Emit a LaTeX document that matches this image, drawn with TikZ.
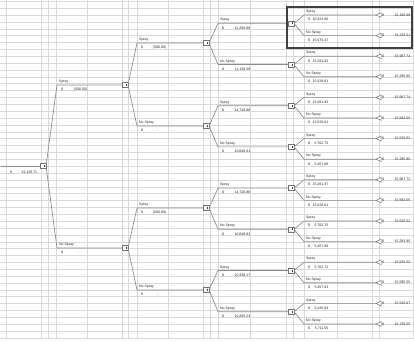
\documentclass[tikz,border=0pt]{standalone}
\usepackage{fontspec}
\setmainfont{Liberation Sans}
\newcommand\money[2]{\makebox[#1pt][s]{\$\hfill #2}}
\begin{document}
\begin{tikzpicture}[x=1pt,y=-1pt,
  gridline/.style={draw=black!15,line width=0.5pt},
  branch/.style={draw=black!45,line width=0.65pt},
  dbox/.style={draw=black!55,fill=white,line width=0.5pt,minimum width=6pt,minimum height=5pt,inner sep=0pt,outer sep=0pt},
  term/.style={draw=black!55,fill=white,line width=0.5pt},
  lbl/.style={font=\fontsize{3.5}{4}\selectfont,inner sep=0pt,anchor=west,text=black!85},
  hl/.style={draw=black!75,line width=1.3pt}]
\useasboundingbox (0,0) rectangle (414,341);
\fill[white] (0,0) rectangle (414,341);
% spreadsheet grid
\foreach \k in {0,...,49} \draw[gridline] (0,1.3+6.87*\k) -- (414,1.3+6.87*\k);
\foreach \xx in {6,41,48,56,87,122,128,137,168,203,210,218,250,286,293,304,337,372,379,413}
  \draw[gridline] (\xx,0) -- (\xx,338);
% bend columns
\coordinate (L1) at (57,0);
\coordinate (L2) at (137,0);
\coordinate (L3) at (218,0);
\coordinate (L4) at (304,0);
% decision nodes
\newcommand\dnode[3]{\node[dbox] (#1) at (#2,#3) {}; \fill[black!75] ([xshift=-2.2pt,yshift=-1pt]#1.east) rectangle ([xshift=-0.6pt,yshift=1pt]#1.east);}
\dnode{R}{43}{166}
\dnode{A1}{125}{85}
\dnode{A2}{125}{248}
\dnode{B1}{206}{43}
\dnode{B2}{206}{126}
\dnode{B3}{206}{208}
\dnode{B4}{206}{290}
\dnode{C1}{291}{23.3}
\dnode{C2}{291}{64.5}
\dnode{C3}{291}{105.7}
\dnode{C4}{291}{146.9}
\dnode{C5}{291}{188.1}
\dnode{C6}{291}{229.3}
\dnode{C7}{291}{270.5}
\dnode{C8}{291}{311.7}
% terminal nodes (tips)
\foreach \i in {1,...,16} \coordinate (T\i) at (376,15+20.6*\i-20.6);
% root lead-in
\coordinate (r0) at (1,166);
\draw[branch] (r0) -- (R.west);
\path (r0) node[lbl,xshift=9pt,yshift=-6pt] {\money{27}{22,128.71}};
% branch macro: parent, child, bend column, label, value
\newcommand\brn[5]{%
  \draw[branch] (#1.east) -- (#2.west -| #3) -- (#2.west);
  \path (#2.west -| #3) node[lbl,xshift=2pt,yshift=3.2pt] {#4};
  \path (#2.west -| #3) node[lbl,xshift=4pt,yshift=-4.8pt] {#5};}
\newcommand\trm[5]{%
  \draw[branch] (#1.east) -- (#2 -| L4) -- (#2);
  \draw[term] (#2) -- ++(5,-2.3) -- ++(0,4.6) -- cycle;
  \path (#2 -| L4) node[lbl,xshift=2pt,yshift=3.2pt] {#3};
  \path (#2 -| L4) node[lbl,xshift=4pt,yshift=-4.8pt] {\money{20}{#4}};
  \path (#2) node[lbl,xshift=6pt] {\money{28}{#5}};}
% level 1
\brn{R}{A1}{L1}{Spray}{\money{26}{(500.00)}}
\brn{R}{A2}{L1}{No Spray}{\money{26}{-\hspace{8pt}}}
% level 2
\brn{A1}{B1}{L2}{Spray}{\money{25}{(500.00)}}
\brn{A1}{B2}{L2}{No Spray}{\money{25}{-\hspace{8pt}}}
\brn{A2}{B3}{L2}{Spray}{\money{25}{(500.00)}}
\brn{A2}{B4}{L2}{No Spray}{\money{25}{-\hspace{8pt}}}
% level 3
\brn{B1}{C1}{L3}{Spray}{\money{28}{11,838.88}}
\brn{B1}{C2}{L3}{No Spray}{\money{28}{11,138.58}}
\brn{B2}{C3}{L3}{Spray}{\money{28}{14,726.88}}
\brn{B2}{C4}{L3}{No Spray}{\money{28}{10,048.81}}
\brn{B3}{C5}{L3}{Spray}{\money{28}{14,726.88}}
\brn{B3}{C6}{L3}{No Spray}{\money{28}{10,048.83}}
\brn{B4}{C7}{L3}{Spray}{\money{28}{10,338.17}}
\brn{B4}{C8}{L3}{No Spray}{\money{28}{10,285.24}}
% level 4 with terminals
\trm{C1}{T1}{Spray}{16,324.86}{16,188.88}
\trm{C1}{T2}{No Spray}{15,575.47}{16,234.31}
\trm{C2}{T3}{Spray}{15,281.83}{15,987.74}
\trm{C2}{T4}{No Spray}{15,528.61}{15,295.85}
\trm{C3}{T5}{Spray}{15,281.83}{15,987.74}
\trm{C3}{T6}{No Spray}{15,528.61}{15,594.55}
\trm{C4}{T7}{Spray}{5,702.75}{15,525.62}
\trm{C4}{T8}{No Spray}{5,457.88}{15,295.85}
\trm{C5}{T9}{Spray}{15,281.87}{15,987.72}
\trm{C5}{T10}{No Spray}{15,528.61}{15,594.55}
\trm{C6}{T11}{Spray}{5,702.75}{15,525.52}
\trm{C6}{T12}{No Spray}{5,457.88}{15,293.85}
\trm{C7}{T13}{Spray}{5,702.72}{15,525.52}
\trm{C7}{T14}{No Spray}{5,457.83}{15,595.55}
\trm{C8}{T15}{Spray}{5,445.83}{15,535.67}
\trm{C8}{T16}{No Spray}{5,711.55}{15,725.55}
% highlight frame
\draw[hl] (287,7) rectangle (412,48);
\end{tikzpicture}
\end{document}
